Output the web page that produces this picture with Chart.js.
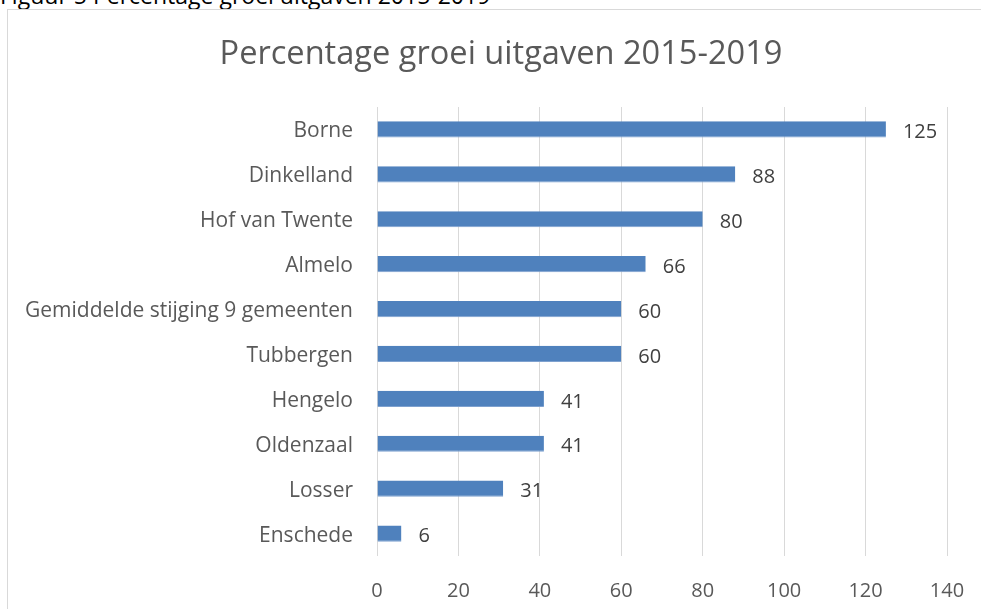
<!DOCTYPE html>
<html>
<head>
<meta charset="utf-8">
<script src="https://cdn.jsdelivr.net/npm/chart.js@4"></script>
<style>
  body { margin: 0; background: #fff; overflow: hidden; width: 981px; height: 609px; position: relative; }
  #caption { position: absolute; left: 0; top: -16px; font-family: "Open Sans", sans-serif; font-size: 23px; line-height: 23px; color: #000; white-space: nowrap; }
  #frame { position: absolute; left: 7px; top: 9px; width: 1000px; height: 700px; border: 1px solid #d9d9d9; }
  #wrap { position: absolute; left: 0; top: 0; width: 986px; height: 600px; }
</style>
</head>
<body>
<div id="caption">Figuur 5 Percentage groei uitgaven 2015-2019</div>
<div id="frame">
  <div id="wrap"><canvas id="myChart"></canvas></div>
</div>
<script>
const gemeenten = ['Borne', 'Dinkelland', 'Hof van Twente', 'Almelo', 'Gemiddelde stijging 9 gemeenten',
    'Tubbergen', 'Hengelo', 'Oldenzaal', 'Losser', 'Enschede'];
const groei = [125, 88, 80, 66, 60, 60, 41, 41, 31, 6];
const xTicks = [0, 20, 40, 60, 80, 100, 120, 140];
const titel = 'Percentage groei uitgaven 2015-2019';

const fontFam = '"Open Sans", sans-serif';

// title centred on the whole frame, not on the padded box
const frameTitle = {
    id: 'frameTitle',
    afterDraw(chart) {
        const ctx = chart.ctx;
        ctx.save();
        ctx.font = '32.6px ' + fontFam;
        ctx.fillStyle = '#595959';
        ctx.textAlign = 'center';
        ctx.textBaseline = 'middle';
        ctx.fillText(titel, chart.width / 2, 45);
        ctx.restore();
    }
};

// labels next to the bars
const valueLabels = {
    id: 'valueLabels',
    afterDatasetsDraw(chart) {
        const ctx = chart.ctx;
        const meta = chart.getDatasetMeta(0);
        ctx.save();
        ctx.font = '20px ' + fontFam;
        ctx.fillStyle = '#404040';
        ctx.textAlign = 'left';
        ctx.textBaseline = 'middle';
        meta.data.forEach((bar, i) => {
            ctx.fillText(groei[i], bar.x + 17, bar.y + 3);
        });
        ctx.restore();
    }
};

var ctx = document.getElementById('myChart').getContext('2d');

var chart = new Chart(ctx, {
    type: 'bar',
    data: {
        labels: gemeenten,
        datasets: [{
            data: groei,
            backgroundColor: '#4f81bd',
            borderColor: '#7ea1cf',
            borderWidth: { top: 0, left: 0, right: 0, bottom: 1 },
            categoryPercentage: 1,
            barPercentage: 0.36
        }]
    },
    options: {
        indexAxis: 'y',
        responsive: true,
        maintainAspectRatio: false,
        animation: false,
        layout: { padding: { left: 0, right: 47, top: 97, bottom: 0 } },
        plugins: {
            legend: { display: false },
            tooltip: { enabled: false },
            title: { display: false }
        },
        scales: {
            x: {
                min: 0,
                max: 140,
                afterBuildTicks: axis => { axis.ticks = xTicks.map(v => ({ value: v })); },
                afterFit: axis => { axis.height = 54; },
                grid: { color: '#d9d9d9', drawTicks: false },
                border: { display: false },
                ticks: { color: '#595959', font: { family: fontFam, size: 20 }, padding: 23 }
            },
            y: {
                afterFit: axis => { axis.width = 369; },
                grid: { display: false },
                border: { display: false },
                ticks: { color: '#595959', font: { family: fontFam, size: 21 }, padding: 16, labelOffset: 2, autoSkip: false }
            }
        }
    },
    plugins: [valueLabels, frameTitle]
});
</script>
</body>
</html>
